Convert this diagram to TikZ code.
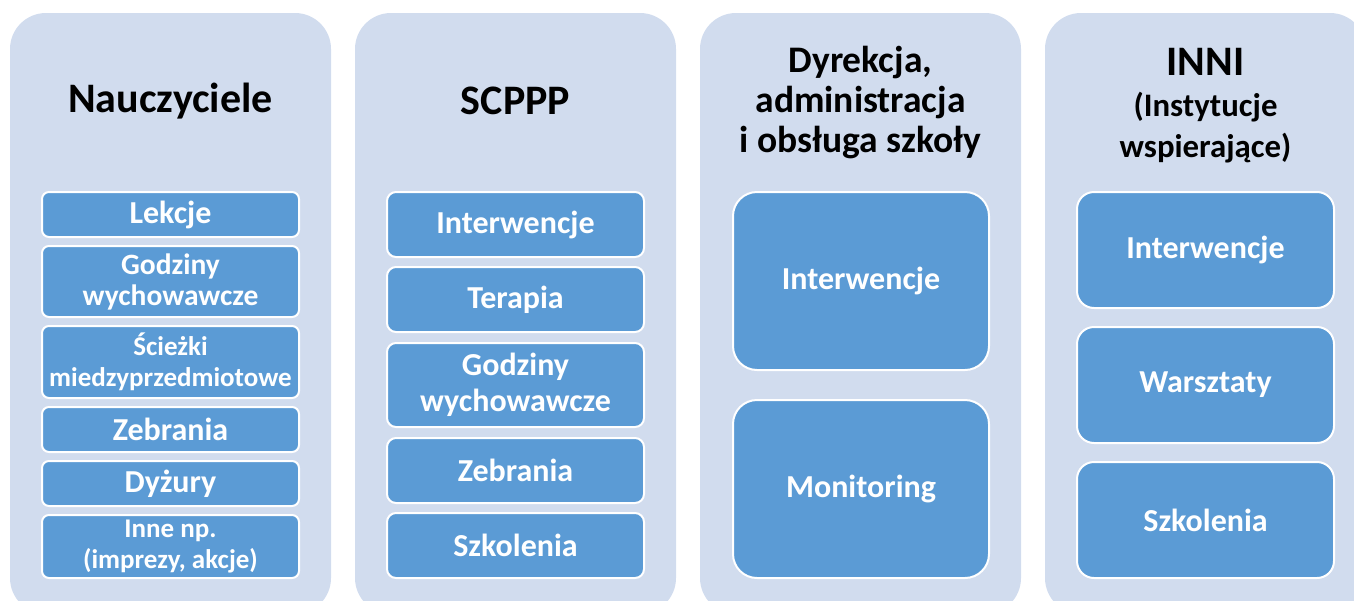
\documentclass[tikz,border=0pt]{standalone}
\usepackage{fontspec}
\setmainfont{Carlito}
\definecolor{outerbg}{HTML}{D1DCEE}
\definecolor{itemblue}{HTML}{5B9BD5}
\begin{document}
\begin{tikzpicture}[x=1pt,y=-1pt,
  outerbox/.style={fill=outerbg, draw=none, rounded corners=36pt},
  title/.style={font=\bfseries\fontsize{42}{46}\selectfont, align=center, text=black, inner sep=0pt},
  itembox/.style={draw=white, line width=2pt, fill=itemblue, text=white, align=center, inner sep=0pt},
  fsA/.style={font=\bfseries\fontsize{29.5}{31}\selectfont},
  fsC/.style={font=\bfseries\fontsize{27}{31}\selectfont},
  fsB/.style={font=\bfseries\fontsize{32}{36}\selectfont},
]
\useasboundingbox (0,0) rectangle (1354,600);
\clip (0,0) rectangle (1354,600);
% outer columns
\fill[outerbox] (10,13) rectangle (331,614);
\fill[outerbox] (355,13) rectangle (676,614);
\fill[outerbox] (700,13) rectangle (1021,614);
\fill[outerbox] (1045,13) rectangle (1366,614);
% titles
\node[title] (t1) at (170.5,101) {Nauczyciele};
\node[title] (t2) at (515.5,101) {SCPPP};
\node[title, font=\bfseries\fontsize{37.5}{40}\selectfont] (t3) at (860.5,103) {Dyrekcja,\\administracja\\i obsługa szkoły};
\node[title] (t4) at (1205.5,62) {INNI};
\node[title, font=\bfseries\fontsize{32.8}{41}\selectfont] (t4b) at (1205.5,127.5) {(Instytucje\\wspierające)};
% column 1
\begin{scope}[every node/.style={itembox, fsB, rounded corners=7pt, minimum width=257pt}]
\node[minimum height=45pt] (a1) at (170.5,214.5) {Lekcje};
\node[minimum height=71pt, fsA] (a2) at (170.5,281.5) {Godziny\\wychowawcze};
\node[minimum height=72pt, fsC] (a3) at (170.5,362) {Ścieżki\\miedzyprzedmiotowe};
\node[minimum height=45pt] (a4) at (170.5,429.5) {Zebrania};
\node[minimum height=45pt] (a5) at (170.5,483.5) {Dyżury};
\node[minimum height=63pt, fsC] (a6) at (170.5,546.5) {Inne np.\\(imprezy, akcje)};
\end{scope}
% column 2
\begin{scope}[every node/.style={itembox, fsB, rounded corners=9pt, minimum width=257pt}]
\node[minimum height=65pt] (b1) at (515.5,224.5) {Interwencje};
\node[minimum height=65pt] (b2) at (515.5,299.5) {Terapia};
\node[minimum height=84pt] (b3) at (515.5,385) {Godziny\\wychowawcze};
\node[minimum height=65pt] (b4) at (515.5,470.5) {Zebrania};
\node[minimum height=65pt] (b5) at (515.5,545.5) {Szkolenia};
\end{scope}
% column 3
\begin{scope}[every node/.style={itembox, fsB, rounded corners=24pt, minimum width=256pt, minimum height=178pt}]
\node (c1) at (861,281) {Interwencje};
\node (c2) at (861,489) {Monitoring};
\end{scope}
% column 4
\begin{scope}[every node/.style={itembox, fsB, rounded corners=17pt, minimum width=257pt, minimum height=116pt}]
\node (d1) at (1205.5,250) {Interwencje};
\node (d2) at (1205.5,385) {Warsztaty};
\node (d3) at (1205.5,520) {Szkolenia};
\end{scope}
\end{tikzpicture}
\end{document}
